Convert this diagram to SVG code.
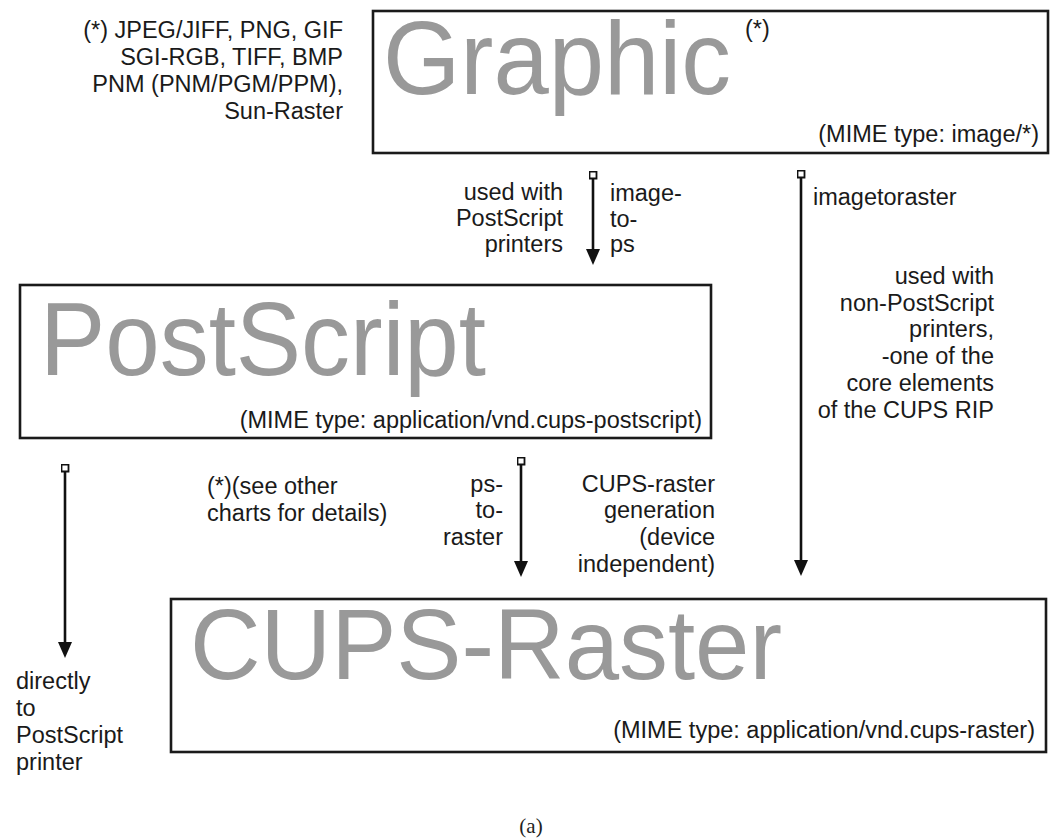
<svg xmlns="http://www.w3.org/2000/svg" width="1051" height="838" viewBox="0 0 1051 838">
<style>
.box{fill:#fff;stroke:#1a1a1a;stroke-width:2.6}
.big{font-family:"Liberation Sans",Arial,sans-serif;fill:#999999}
.t{font-family:"Liberation Sans",Arial,sans-serif;font-size:23.5px;fill:#1a1a1a}
.e{text-anchor:end}
.cap{font-family:"Liberation Serif","Times New Roman",serif;font-size:21px;fill:#222;text-anchor:middle}
.conn{stroke:#111;stroke-width:2.6;fill:none;marker-start:url(#sq);marker-end:url(#arr)}
</style>
<defs>
<marker id="arr" markerUnits="userSpaceOnUse" viewBox="0 0 16 14" markerWidth="16" markerHeight="14" refX="6" refY="7" orient="auto">
<path d="M0,0 L16,7 L0,14 z" fill="#111"/>
</marker>
<marker id="sq" markerUnits="userSpaceOnUse" viewBox="0 0 9 9" markerWidth="9" markerHeight="9" refX="4.5" refY="4.5" orient="auto">
<rect x="1" y="1" width="7" height="7" fill="#fff" stroke="#111" stroke-width="1.8"/>
</marker>
</defs>

<g id="graphic-formats">
<text class="t e" x="343" y="38">(*) JPEG/JIFF, PNG, GIF</text>
<text class="t e" x="343" y="65">SGI-RGB, TIFF, BMP</text>
<text class="t e" x="343" y="92">PNM (PNM/PGM/PPM),</text>
<text class="t e" x="343" y="119">Sun-Raster</text>
</g>

<g id="graphic">
<rect class="box" x="373" y="11" width="675" height="142"/>
<text class="big" x="383" y="94" font-size="104" textLength="348" lengthAdjust="spacingAndGlyphs">Graphic</text>
<text class="t" x="745" y="37" font-size="22">(*)</text>
<text class="t e" x="1039" y="142">(MIME type: image/*)</text>
</g>

<g id="postscript">
<rect class="box" x="20" y="285" width="691" height="153"/>
<text class="big" x="40" y="375" font-size="104" textLength="446" lengthAdjust="spacingAndGlyphs">PostScript</text>
<text class="t e" x="702" y="428">(MIME type: application/vnd.cups-postscript)</text>
</g>

<g id="cups-raster">
<rect class="box" x="171" y="599" width="875" height="153"/>
<text class="big" x="190" y="679" font-size="100" textLength="592" lengthAdjust="spacingAndGlyphs">CUPS-Raster</text>
<text class="t e" x="1035" y="738">(MIME type: application/vnd.cups-raster)</text>
</g>

<g id="connectors">
<line class="conn" x1="593" y1="175" x2="593" y2="255"/>
<line class="conn" x1="801" y1="174" x2="801" y2="566"/>
<line class="conn" x1="65" y1="468" x2="65" y2="648"/>
<line class="conn" x1="521" y1="461" x2="521" y2="567"/>
</g>

<g id="labels">
<text class="t e" x="563" y="200">used with</text>
<text class="t e" x="563" y="226">PostScript</text>
<text class="t e" x="563" y="252">printers</text>
<text class="t" x="610" y="201">image-</text>
<text class="t" x="610" y="227">to-</text>
<text class="t" x="610" y="252">ps</text>
<text class="t" x="813" y="205">imagetoraster</text>
<text class="t e" x="994" y="284">used with</text>
<text class="t e" x="994" y="311">non-PostScript</text>
<text class="t e" x="994" y="337">printers,</text>
<text class="t e" x="994" y="364">-one of the</text>
<text class="t e" x="994" y="391">core elements</text>
<text class="t e" x="994" y="418">of the CUPS RIP</text>
<text class="t" x="207" y="494">(*)(see other</text>
<text class="t" x="207" y="521">charts for details)</text>
<text class="t e" x="503" y="492">ps-</text>
<text class="t e" x="503" y="518">to-</text>
<text class="t e" x="503" y="545">raster</text>
<text class="t e" x="715" y="492">CUPS-raster</text>
<text class="t e" x="715" y="518">generation</text>
<text class="t e" x="715" y="545">(device</text>
<text class="t e" x="715" y="572">independent)</text>
<text class="t" x="16" y="689">directly</text>
<text class="t" x="16" y="716">to</text>
<text class="t" x="16" y="743">PostScript</text>
<text class="t" x="16" y="770">printer</text>
</g>

<text class="cap" x="531" y="833">(a)</text>
</svg>
